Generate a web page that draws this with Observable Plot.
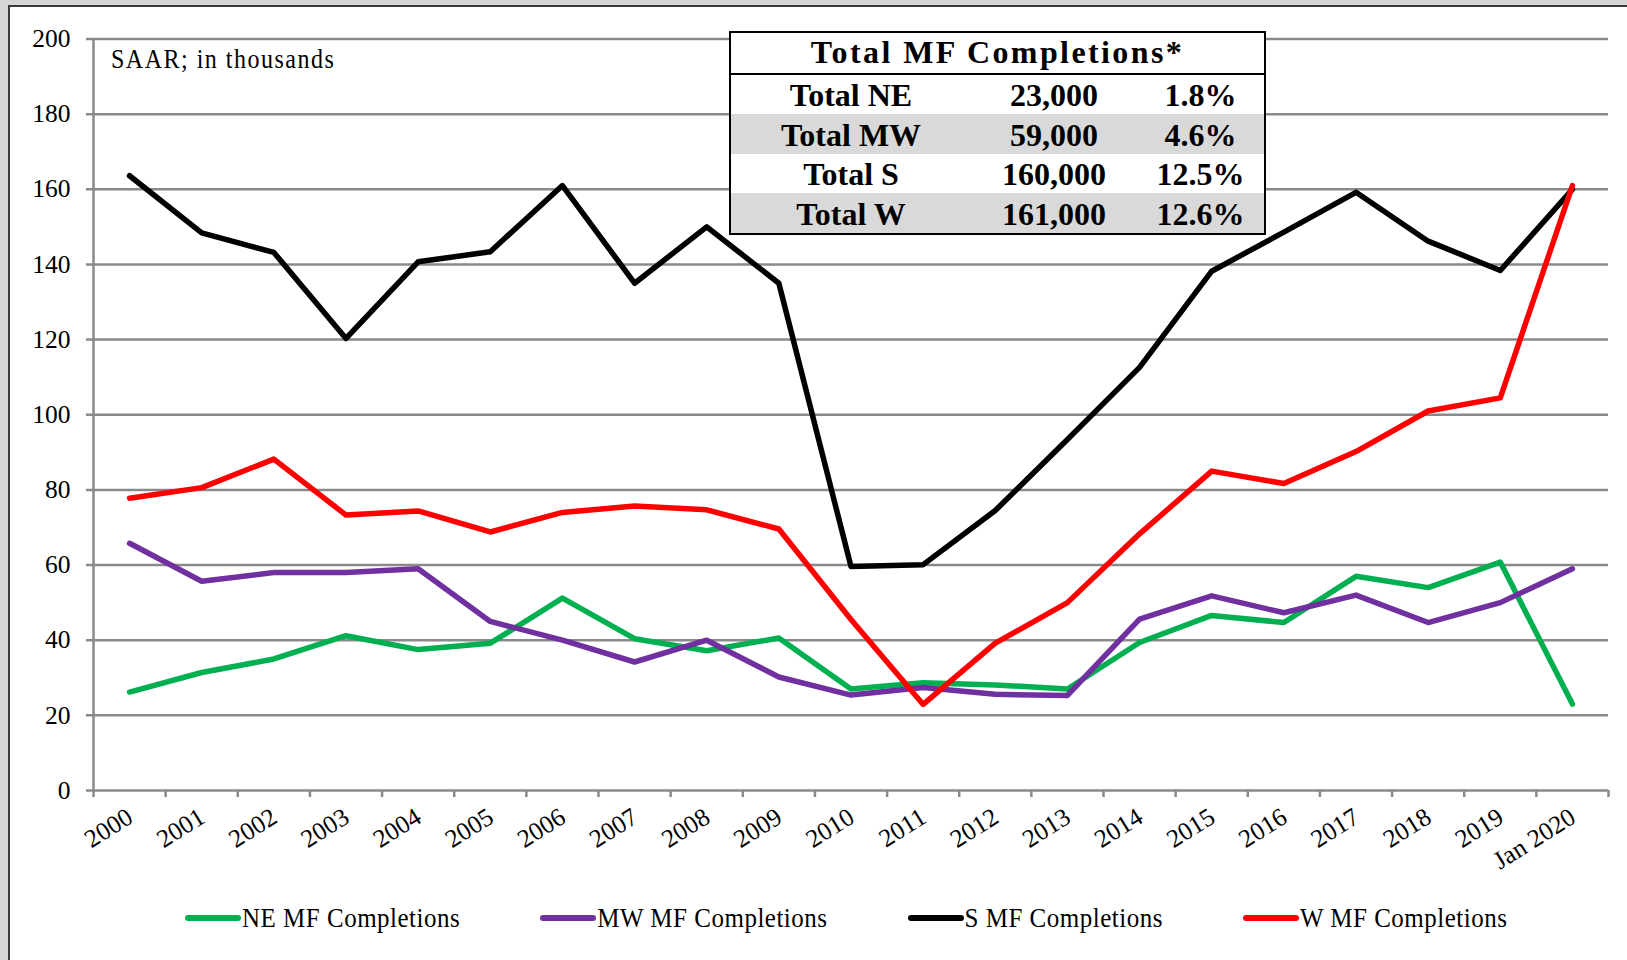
<!DOCTYPE html>
<html>
<head>
<meta charset="utf-8">
<script src="https://cdn.jsdelivr.net/npm/d3@7"></script>
<script src="https://cdn.jsdelivr.net/npm/@observablehq/plot@0.6"></script>
<style>
  html, body { margin: 0; padding: 0; }
  body { width: 1627px; height: 960px; position: relative; overflow: hidden; background: #d6d6d6;
         font-family: "Liberation Serif", "Times New Roman", serif; color: #000; }
  #frame { position: absolute; left: 8px; top: 5px; width: 1660px; height: 1000px; background: #fff;
           border-left: 2px solid #3a3a3a; border-top: 2px solid #3a3a3a; }
  #chart { position: absolute; left: 0; top: 0; }
  #note { position: absolute; left: 111px; top: 46px; font-size: 24px; letter-spacing: 1.5px; white-space: nowrap;
          transform: scaleY(1.1); transform-origin: left center; }
  #tbl { position: absolute; left: 729px; top: 31px; width: 537px; box-sizing: border-box; border: 2px solid #000;
         background: #fff; display: grid; grid-template-columns: 240px 166px 127px; font-weight: bold; }
  #tbl .title { grid-column: 1 / 4; height: 39.5px; border-bottom: 2px solid #000; font-size: 32px; letter-spacing: 2.4px;
                display: flex; align-items: center; justify-content: center; }
  #tbl .cell { height: 39.5px; font-size: 32px; display: flex; align-items: center; justify-content: center; padding-top: 3px; box-sizing: border-box; }
  #tbl .shade { background: #d9d9d9; }
  #legend { position: absolute; left: 185px; top: 904px; display: flex; gap: 80px; align-items: center; font-size: 25px;
            letter-spacing: 0.5px; white-space: nowrap; }
  #legend .item { display: flex; align-items: center; }
  #legend .sw { width: 56px; height: 6px; border-radius: 3px; margin-right: 1px; }
  #legend span { display: inline-block; transform: scaleY(1.1); }
</style>
</head>
<body>
<div id="frame"></div>
<div id="chart"></div>
<div id="note"></div>
<div id="tbl"></div>
<div id="legend"></div>
<script>
// ---- data ----
const categories = ["2000","2001","2002","2003","2004","2005","2006","2007","2008","2009","2010",
                    "2011","2012","2013","2014","2015","2016","2017","2018","2019","Jan 2020"];
const neValues = [26.2, 31.4, 35.0, 41.2, 37.5, 39.2, 51.2, 40.4, 37.2, 40.6, 27.0,
                  28.7, 28.1, 27.0, 39.4, 46.6, 44.7, 57.0, 54.0, 60.8, 23.0];
const mwValues = [65.8, 55.7, 58.0, 58.0, 59.0, 45.0, 40.0, 34.2, 40.0, 30.2, 25.4,
                  27.4, 25.6, 25.3, 45.6, 51.8, 47.3, 52.0, 44.7, 50.0, 59.0];
const sValues  = [163.6, 148.4, 143.2, 120.3, 140.7, 143.4, 161.0, 135.0, 150.0, 135.0, 59.6,
                  60.1, 74.5, 93.4, 112.6, 138.2, 148.6, 159.2, 146.2, 138.4, 160.0];
const wValues  = [77.8, 80.6, 88.2, 73.3, 74.4, 68.8, 74.0, 75.7, 74.7, 69.6, 45.5,
                  22.9, 39.2, 50.0, 68.3, 85.0, 81.7, 90.2, 101.0, 104.5, 161.0];
const seriesNames = ["NE MF Completions", "MW MF Completions", "S MF Completions", "W MF Completions"];
const seriesColors = ["#00B050", "#7030A0", "#000000", "#FF0000"];
const yTicks = [0, 20, 40, 60, 80, 100, 120, 140, 160, 180, 200];

const tableTitle = "Total MF Completions*";
const tableRegions = ["Total NE", "Total MW", "Total S", "Total W"];
const tableTotals = ["23,000", "59,000", "160,000", "161,000"];
const tableShares = ["1.8%", "4.6%", "12.5%", "12.6%"];
const noteText = "SAAR; in thousands";

// ---- build ----
const seriesValues = [neValues, mwValues, sValues, wValues];
const rows = [];
seriesNames.forEach((name, si) => {
  categories.forEach((c, i) => rows.push({series: name, cat: c, value: seriesValues[si][i]}));
});

const W = 1627, H = 890, mL = 93, mR = 19, mT = 38.5, mB = H - 790;
const bw = (W - mL - mR) / categories.length;
const gray = "#8a8a8a";

const chart = Plot.plot({
  width: W, height: H,
  marginLeft: mL, marginRight: mR, marginTop: mT, marginBottom: mB,
  style: {background: "transparent", fontFamily: "'Liberation Serif', 'Times New Roman', serif", fontSize: "24px", overflow: "visible", color: "#000"},
  x: {type: "band", domain: categories, paddingInner: 0, paddingOuter: 0, round: false, axis: null},
  y: {domain: [0, 200], axis: null},
  marks: [
    Plot.ruleY(yTicks, {y: d => d, stroke: gray, strokeWidth: 2.5, insetLeft: -7}),
    Plot.ruleX([categories[0]], {x: d => d, dx: -bw / 2, stroke: gray, strokeWidth: 2.5}),
    Plot.ruleX(categories, {x: d => d, y1: () => 0, y2: () => 0, insetBottom: -7, dx: -bw / 2, stroke: gray, strokeWidth: 2.5}),
    Plot.ruleX([categories[categories.length - 1]], {x: d => d, y1: () => 0, y2: () => 0, insetBottom: -7, dx: bw / 2, stroke: gray, strokeWidth: 2.5}),
    Plot.text(yTicks, {y: d => d, text: d => String(d), frameAnchor: "left", textAnchor: "end", dx: -23, fontSize: 25.5, fill: "#000"}),
    Plot.text(categories, {x: d => d, text: d => d, frameAnchor: "bottom", textAnchor: "end", rotate: -32, dx: 5, dy: 31, fontSize: 25.5, fill: "#000"}),
    ...seriesNames.map((name, i) => Plot.line(rows.filter(r => r.series === name), {
      x: "cat", y: "value", stroke: seriesColors[i], strokeWidth: 5.5, strokeLinecap: "round", strokeLinejoin: "round"
    }))
  ]
});
document.getElementById("chart").appendChild(chart);

document.getElementById("note").textContent = noteText;

const tbl = document.getElementById("tbl");
const t = document.createElement("div");
t.className = "title"; t.textContent = tableTitle; tbl.appendChild(t);
tableRegions.forEach((r, i) => {
  [r, tableTotals[i], tableShares[i]].forEach(v => {
    const c = document.createElement("div");
    c.className = "cell" + (i % 2 === 1 ? " shade" : "");
    c.textContent = v;
    tbl.appendChild(c);
  });
});

const legend = document.getElementById("legend");
seriesNames.forEach((name, i) => {
  const item = document.createElement("div"); item.className = "item";
  const sw = document.createElement("div"); sw.className = "sw"; sw.style.background = seriesColors[i];
  const tx = document.createElement("span"); tx.textContent = name;
  item.appendChild(sw); item.appendChild(tx); legend.appendChild(item);
});
</script>
</body>
</html>
